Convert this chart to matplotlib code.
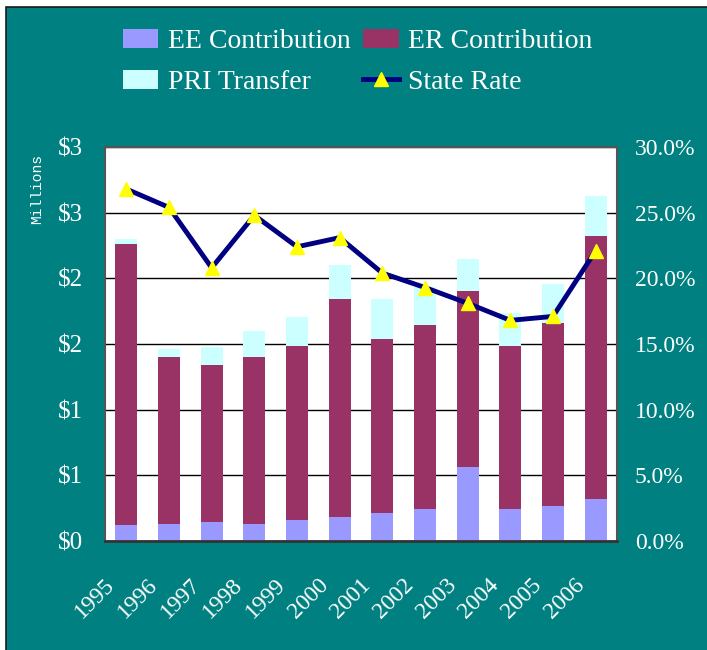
import numpy as np
import matplotlib
matplotlib.use("Agg")
import matplotlib.pyplot as plt
import matplotlib.transforms as mtrans
from matplotlib.patches import Rectangle

years = ["1995", "1996", "1997", "1998", "1999", "2000",
         "2001", "2002", "2003", "2004", "2005", "2006"]
# millions of dollars
ee = [0.12, 0.13, 0.145, 0.13, 0.16, 0.18, 0.21, 0.24, 0.56, 0.24, 0.27, 0.32]
er = [2.14, 1.27, 1.195, 1.27, 1.325, 1.66, 1.325, 1.405, 1.34, 1.245, 1.39, 2.00]
pri = [0.04, 0.06, 0.14, 0.20, 0.22, 0.26, 0.31, 0.29, 0.25, 0.25, 0.30, 0.31]
# percent
state_rate = [26.8, 25.4, 20.8, 24.8, 22.4, 23.1, 20.4, 19.3, 18.1, 16.8, 17.1, 22.1]

left_ticks = [0, 0.5, 1, 1.5, 2, 2.5, 3]
left_labels = ["$0", "$1", "$1", "$2", "$2", "$3", "$3"]
right_ticks = [0, 5, 10, 15, 20, 25, 30]

teal = "#008080"
plt.rcParams["font.family"] = ["Liberation Serif", "DejaVu Serif"]

fig = plt.figure(figsize=(7.07, 6.5), dpi=100, facecolor="white")
fig.patches.append(Rectangle((6 / 707, -0.01), 1.01 - 6 / 707, 1.01 - 7 / 650,
                             transform=fig.transFigure, facecolor=teal,
                             edgecolor="#1a1a1a", linewidth=1.2, zorder=-10))

ax = fig.add_axes([105 / 707, 109 / 650, 512 / 707, 394 / 650])
ax.set_facecolor("white")
x = np.arange(len(years))
w = 0.52
b1 = ax.bar(x, ee, w, color="#9999FF", label="EE Contribution", zorder=2)
b2 = ax.bar(x, er, w, bottom=ee, color="#993366", label="ER Contribution", zorder=2)
bot = np.array(ee) + np.array(er)
b3 = ax.bar(x, pri, w, bottom=bot, color="#CCFFFF", label="PRI Transfer", zorder=2)
ax.set_xlim(-0.5, len(years) - 0.5)
ax.set_ylim(0, 3)
ax.set_yticks(left_ticks)
ax.set_yticklabels(left_labels)
ax.yaxis.grid(True, color="black", linewidth=1, zorder=1)
ax.set_axisbelow(True)
ax.tick_params(axis="y", length=0, pad=16, labelsize=18, labelcolor="white")
ax.set_xticks(x)
ax.set_xticklabels(years, rotation=45, ha="right", rotation_mode="anchor",
                   fontsize=17, color="white")
ax.tick_params(axis="x", length=0, pad=24)
shift = mtrans.ScaledTranslation(-22 / 100, 0, fig.dpi_scale_trans)
for lab in ax.get_xticklabels():
    lab.set_transform(lab.get_transform() + shift)
for s in ax.spines.values():
    s.set_color("#555555")
    s.set_linewidth(1.5)
ax.spines["bottom"].set_color("#333333")
ax.spines["bottom"].set_linewidth(2)

ax2 = ax.twinx()
ln, = ax2.plot(x, state_rate, color="#000080", linewidth=3.5, marker="^",
               markersize=10, markerfacecolor="#FFFF00", markeredgecolor="#FFFF00",
               label="State Rate", zorder=3)
ax2.set_ylim(0, 30)
ax2.set_yticks(right_ticks)
ax2.set_yticklabels(["%.1f%%" % v for v in right_ticks])
ax2.tick_params(axis="y", length=0, pad=13, labelsize=17, labelcolor="white")
for s in ax2.spines.values():
    s.set_visible(False)

fig.text(37 / 707, 1 - 189 / 650, "Millions", rotation=90, color="white",
         fontsize=10.5, family="Liberation Mono", ha="center", va="center")

fig.legend([b1, b3, b2, ln], ["EE Contribution", "PRI Transfer", "ER Contribution", "State Rate"],
           ncol=2, loc="center", bbox_to_anchor=(358 / 707, 1 - 62 / 650),
           frameon=False, fontsize=20, labelcolor="white", handlelength=1.27,
           handleheight=0.7, columnspacing=0.45, handletextpad=0.35, labelspacing=0.55)

fig.savefig("out.png", dpi=100, facecolor=fig.get_facecolor())
